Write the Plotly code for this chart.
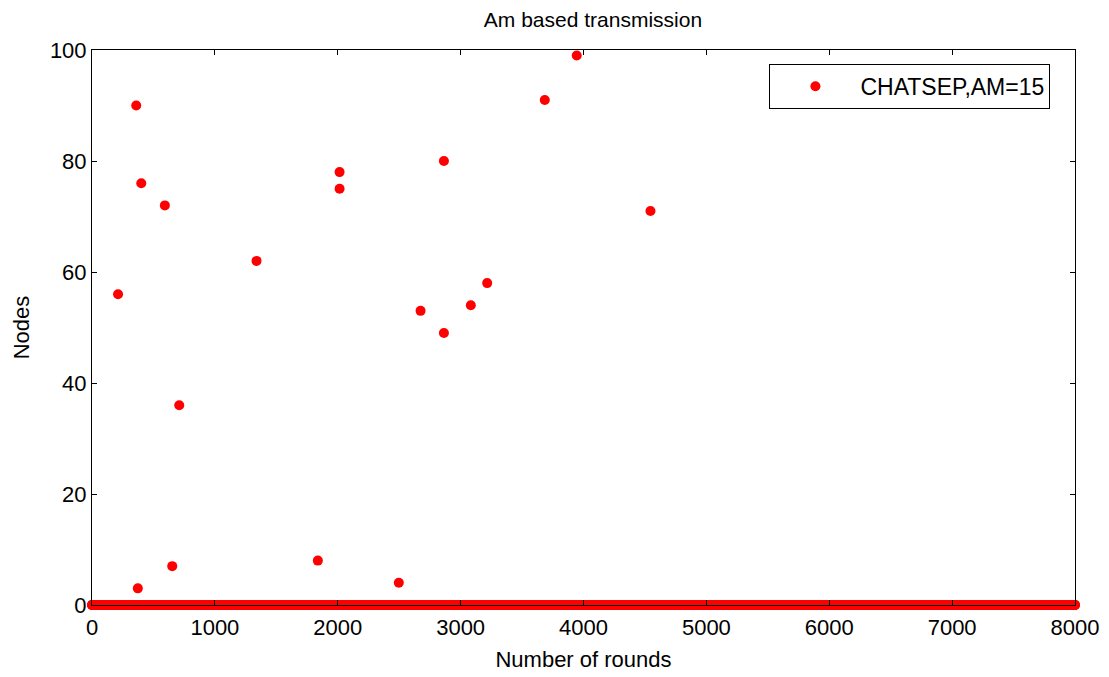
import plotly.graph_objects as go

# Rounds simulated and the rounds at which a non-zero node count was recorded
total_rounds = 8000
event_rounds = [212, 360, 373, 401, 593, 653, 710, 1339, 1838, 2015, 2015,
                2497, 2674, 2864, 2864, 3083, 3216, 3685, 3945, 4545]
event_nodes = [56, 90, 3, 76, 72, 7, 36, 62, 8, 78, 75,
               4, 53, 80, 49, 54, 58, 91, 99, 71]

x_ticks = [0, 1000, 2000, 3000, 4000, 5000, 6000, 7000, 8000]
y_ticks = [0, 20, 40, 60, 80, 100]

# every other round recorded 0 nodes
rounds = list(range(0, total_rounds + 1))
nodes = [0] * len(rounds)
xs = rounds + event_rounds
ys = nodes + event_nodes

FONT = "Liberation Sans, Arial, Helvetica, sans-serif"

fig = go.Figure()
fig.add_trace(go.Scatter(
    x=xs, y=ys, mode="markers", name="CHATSEP,AM=15",
    marker=dict(color="#ff0000", size=10, line=dict(width=0)),
    cliponaxis=False,
))

axis_common = dict(
    showline=True, linecolor="black", linewidth=1, mirror="ticks",
    ticks="inside", ticklen=5, tickcolor="black", tickwidth=1,
    showgrid=False, zeroline=False, automargin=False,
    tickfont=dict(family=FONT, size=22, color="black"),
)

fig.update_layout(
    width=1109, height=677,
    paper_bgcolor="white", plot_bgcolor="white",
    margin=dict(l=92, r=34, t=50, b=72),
    title=dict(text="Am based transmission", x=593 / 1109, xanchor="center",
               y=1 - 20 / 677, yanchor="middle", yref="container",
               font=dict(family=FONT, size=21, color="black")),
    xaxis=dict(range=[0, 8000], tickvals=x_ticks, ticktext=[str(v) for v in x_ticks],
               ticklabelstandoff=3,
               title=dict(text="Number of rounds", standoff=12,
                          font=dict(family=FONT, size=22, color="black")),
               **axis_common),
    yaxis=dict(range=[0, 100], tickvals=y_ticks, ticktext=[str(v) for v in y_ticks],
               title=dict(text="Nodes", standoff=14,
                          font=dict(family=FONT, size=22, color="black")),
               **axis_common),
    showlegend=True,
    legend=dict(x=0.975, y=0.975, xanchor="right", yanchor="top",
                bgcolor="white", bordercolor="black", borderwidth=1,
                itemwidth=80,
                font=dict(family=FONT, size=23, color="black")),
)

fig.write_html("out.html")
